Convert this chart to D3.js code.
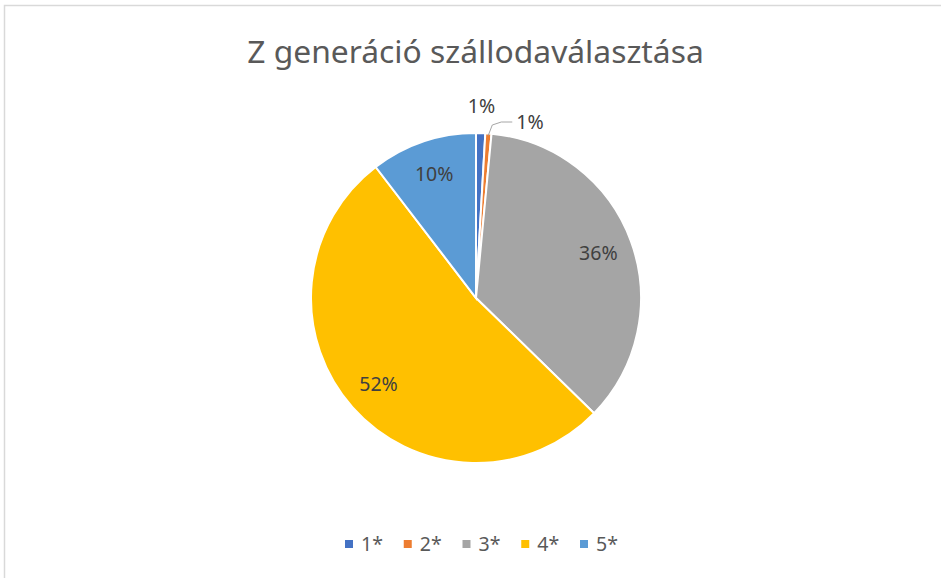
<!DOCTYPE html>
<html>
<head>
<meta charset="utf-8">
<script src="https://cdn.jsdelivr.net/npm/d3@7"></script>
<style>
  body { margin: 0; background: #fff; }
  svg { display: block; font-family: "Noto Sans", "Open Sans", sans-serif; }
</style>
</head>
<body>
<div id="chart-area"></div>
<script>
// data (share of respondents, %)
const categories = ["1*", "2*", "3*", "4*", "5*"];
const shares = [0.9, 0.6, 35.8, 52.3, 10.4];
const colors = ["#4472C4", "#ED7D31", "#A5A5A5", "#FFC000", "#5B9BD5"];
const title = "Z generáció szállodaválasztása";

const width = 941, height = 578;
const cx = 476, cy = 298, radius = 165;

const svg = d3.select("#chart-area")
    .append("svg")
    .attr("width", width)
    .attr("height", height);

// chart border (runs off the right and bottom edge)
svg.append("rect")
    .attr("x", 4.5).attr("y", 5.5)
    .attr("width", width).attr("height", height)
    .attr("fill", "none")
    .attr("stroke", "#D9D9D9")
    .attr("stroke-width", 1.5);

svg.append("text")
    .attr("x", 475.5).attr("y", 63)
    .attr("text-anchor", "middle")
    .attr("fill", "#595959")
    .attr("font-size", 31.8)
    .text(title);

const total = d3.sum(shares);
const data = categories.map((c, i) => ({ name: c, value: shares[i], color: colors[i] }));

const pie = d3.pie().sort(null).value(d => d.value);
const arcs = pie(data);

const arc = d3.arc().innerRadius(0).outerRadius(radius);
const labelArc = d3.arc().innerRadius(radius * 0.79).outerRadius(radius * 0.79);

const g = svg.append("g").attr("transform", `translate(${cx},${cy})`);

g.selectAll(".slice")
    .data(arcs)
    .join("path")
    .attr("class", "slice")
    .attr("d", arc)
    .attr("fill", d => d.data.color)
    .attr("stroke", "#fff")
    .attr("stroke-width", 2);

const pct = d => Math.round(d.data.value / total * 100) + "%";

// big slices: labels inside
const inside = arcs.filter(d => d.data.value / total >= 0.05);
g.selectAll(".lbl-in")
    .data(inside)
    .join("text")
    .attr("class", "lbl-in")
    .attr("transform", d => `translate(${labelArc.centroid(d)})`)
    .attr("text-anchor", "middle")
    .attr("dy", "0.35em")
    .attr("fill", "#404040")
    .attr("font-size", 19.5)
    .text(pct);

// small slices: labels outside, the second one pushed right with a leader line
const outside = arcs.filter(d => d.data.value / total < 0.05);
outside.forEach((d, i) => {
    const mid = (d.startAngle + d.endAngle) / 2;
    if (i === 0) {
        const r = radius + 27;
        g.append("text")
            .attr("x", r * Math.sin(mid))
            .attr("y", -r * Math.cos(mid))
            .attr("text-anchor", "middle")
            .attr("dy", "0.35em")
            .attr("fill", "#404040")
            .attr("font-size", 19.5)
            .text(pct(d));
    } else {
        const p0 = [(radius - 2) * Math.sin(mid), -(radius - 2) * Math.cos(mid)];
        const p1 = [p0[0] + 4, -radius - 8];
        const p2 = [p1[0] + 9, -radius - 11];
        const p3 = [p2[0] + 11, p2[1]];
        g.append("path")
            .attr("d", d3.line()([p0, p1, p2, p3]))
            .attr("fill", "none")
            .attr("stroke", "#A6A6A6")
            .attr("stroke-width", 1);
        g.append("text")
            .attr("x", p3[0] + 4)
            .attr("y", p3[1])
            .attr("dy", "0.35em")
            .attr("fill", "#404040")
            .attr("font-size", 19.5)
            .text(pct(d));
    }
});

// legend
const legendX = d3.scalePoint().domain(categories).range([345, 580]);
const legend = svg.append("g").selectAll("g")
    .data(data)
    .join("g")
    .attr("transform", d => `translate(${legendX(d.name)},540)`);

legend.append("rect")
    .attr("width", 8).attr("height", 8)
    .attr("fill", d => d.color);

legend.append("text")
    .attr("x", 16).attr("y", 11)
    .attr("fill", "#595959")
    .attr("font-size", 19.5)
    .text(d => d.name);
</script>
</body>
</html>
